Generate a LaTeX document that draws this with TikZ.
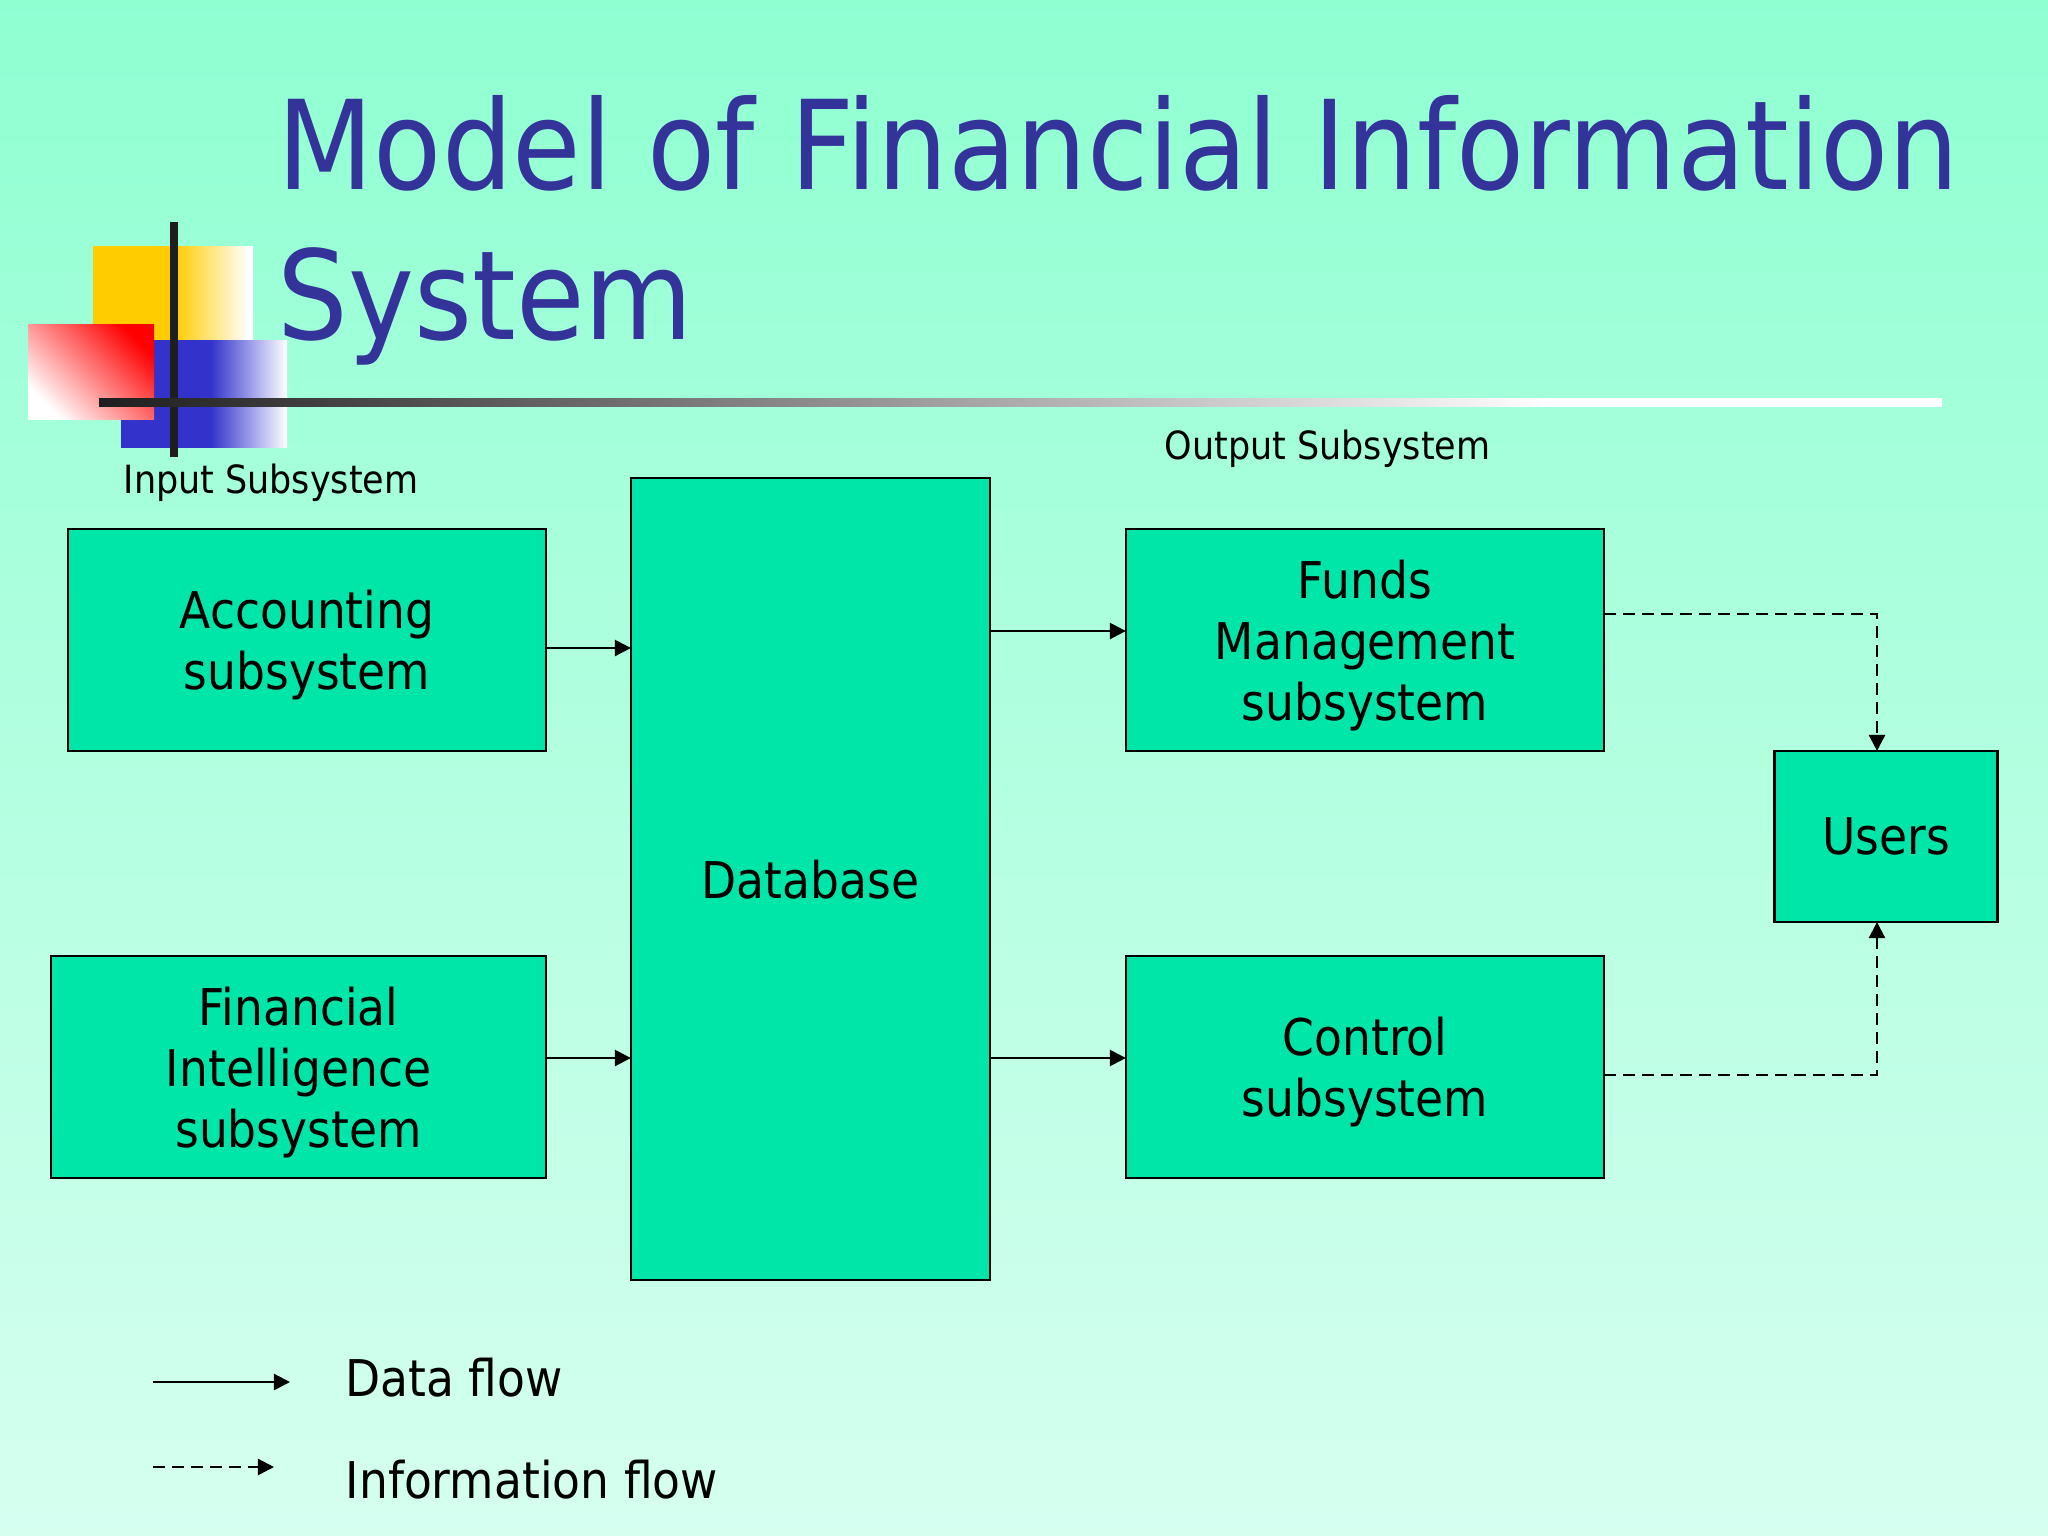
\documentclass[tikz,border=0pt]{standalone}
\usepackage{fontspec}
\setmainfont{DejaVu Sans}[FakeStretch=0.9]
\usepackage{xcolor}
\usetikzlibrary{arrows.meta}
\definecolor{titleblue}{RGB}{51,51,153}
\definecolor{boxgreen}{RGB}{0,230,168}
\definecolor{bgtop}{RGB}{143,255,209}
\definecolor{bgbottom}{RGB}{214,255,240}
\definecolor{barblack}{RGB}{30,30,30}
\definecolor{squareyellow}{RGB}{255,204,0}
\definecolor{squareblue}{RGB}{51,51,204}
\pgfdeclarehorizontalshading{yellowfade}{100bp}{color(0bp)=(squareyellow); color(50.5bp)=(squareyellow); color(73.5bp)=(white); color(100bp)=(white)}
\pgfdeclarehorizontalshading{bluefade}{100bp}{color(0bp)=(squareblue); color(52bp)=(squareblue); color(75bp)=(white); color(100bp)=(white)}
\pgfdeclarehorizontalshading{barfade}{100bp}{color(0bp)=(barblack); color(25bp)=(barblack); color(64.5bp)=(white); color(100bp)=(white)}
\tikzset{
    flowbox/.style={draw=black,line width=0.024cm,fill=boxgreen,outer sep=0pt,align=center,
        text depth=0pt,font=\fontsize{14.4}{17.4}\selectfont},
    singleline/.style={flowbox,text depth=-1.4pt},
    smalllabel/.style={anchor=base west,inner sep=0pt,font=\fontsize{11.05}{14}\selectfont},
    keylabel/.style={anchor=base west,inner sep=0pt,font=\fontsize{14.4}{17.4}\selectfont},
    titleline/.style={anchor=base west,inner sep=0pt,text=titleblue,font=\fontsize{35.2}{40}\selectfont},
    dataflow/.style={line width=0.024cm,-{Triangle[length=0.16cm,width=0.16cm]}},
    infoflow/.style={dataflow,dash pattern=on 0.12cm off 0.07cm}
}

\begin{document}
\begin{tikzpicture}[x=0.01cm,y=-0.01cm]
    \useasboundingbox (0,0) rectangle (2048,1536);
    % Background
    \shade[top color=bgtop,bottom color=bgbottom] (0,0) rectangle (2048,1536);

    % Squares behind the title
    \shade[shading=yellowfade] (93,246) rectangle (253,340);
    \shade[shading=bluefade] (121,340) rectangle (287,447);
    \shade[left color=white,right color=red,shading angle=135] (28,324) rectangle (154,419);

    % Crossing bars
    \fill[barblack] (170,222) rectangle (178,457);
    \shade[shading=barfade] (99,398) rectangle (1942,406);

    % Title
    \node[titleline] (titleone) at (277,189) {Model of Financial Information};
    \node[titleline] (titletwo) at (277,339) {System};

    % Subsystem headings
    \node[smalllabel] (inputlabel) at (123,493) {Input Subsystem};
    \node[smalllabel] (outputlabel) at (1164,459) {Output Subsystem};

    % Boxes
    \node[flowbox,minimum width=4.78cm,minimum height=2.22cm] (accounting) at (307,640) {Accounting\\subsystem};
    \node[flowbox,minimum width=4.95cm,minimum height=2.22cm] (financial) at (298.5,1067) {Financial\\Intelligence\\subsystem};
    \node[singleline,minimum width=3.59cm,minimum height=8.02cm] (database) at (810.5,879) {Database};
    \node[flowbox,minimum width=4.78cm,minimum height=2.22cm] (funds) at (1365,640) {Funds\\Management\\subsystem};
    \node[flowbox,minimum width=4.78cm,minimum height=2.22cm] (control) at (1365,1067) {Control\\subsystem};
    \node[singleline,text depth=-2.4pt,minimum width=2.23cm,minimum height=1.71cm] (users) at (1886,836.5) {Users};

    % Data flows
    \draw[dataflow] (accounting.east |- 0,648) -- (database.west |- 0,648);
    \draw[dataflow] (financial.east |- 0,1058) -- (database.west |- 0,1058);
    \draw[dataflow] (database.east |- 0,631) -- (funds.west |- 0,631);
    \draw[dataflow] (database.east |- 0,1058) -- (control.west |- 0,1058);

    % Information flows
    \draw[infoflow] (funds.east |- 0,614) -| (users.north -| 1877,0);
    \draw[infoflow] (control.east |- 0,1075) -| (users.south -| 1877,0);

    % Key
    \coordinate (datakeystart) at (153,1382);
    \coordinate (datakeyend) at (290,1382);
    \coordinate (infokeystart) at (153,1467);
    \coordinate (infokeyend) at (274,1467);
    \draw[dataflow] (datakeystart) -- (datakeyend);
    \draw[infoflow] (infokeystart) -- (infokeyend);
    \node[keylabel] (datakey) at (345,1396) {Data flow};
    \node[keylabel] (infokey) at (345,1498) {Information flow};
\end{tikzpicture}
\end{document}
